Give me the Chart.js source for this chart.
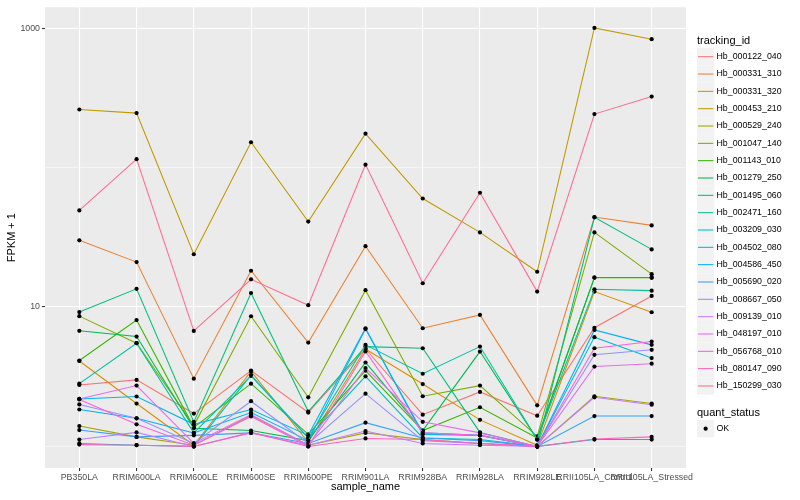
<!DOCTYPE html>
<html><head><meta charset="utf-8">
<script src="https://cdn.jsdelivr.net/npm/chart.js@4/dist/chart.umd.min.js"></script>
<style>html,body{margin:0;padding:0;background:#fff;}</style>
</head><body>
<canvas id="c" width="800" height="500" style="width:800px;height:500px;display:block"></canvas>
<script>
const categories = ['PB350LA','RRIM600LA','RRIM600LE','RRIM600SE','RRIM600PE','RRIM901LA','RRIM928BA','RRIM928LA','RRIM928LE','RRII105LA_Control','RRII105LA_Stressed'];
const trackingIds = ['Hb_000122_040','Hb_000331_310','Hb_000331_320','Hb_000453_210','Hb_000529_240','Hb_001047_140','Hb_001143_010','Hb_001279_250','Hb_001495_060','Hb_002471_160','Hb_003209_030','Hb_004502_080','Hb_004586_450','Hb_005690_020','Hb_008667_050','Hb_009139_010','Hb_048197_010','Hb_056768_010','Hb_080147_090','Hb_150299_030'];
const seriesColors = ['#F8766D','#EA8331','#D89000','#C09B00','#A3A500','#7CAE00','#39B600','#00BB4E','#00BF7D','#00C1A3','#00BFC4','#00BAE0','#00B0F6','#35A2FF','#9590FF','#C77CFF','#E76BF3','#FA62DB','#FF62BC','#FF6C91'];
const yTickValues = [1, 10, 100, 1000];
const yTickLabels = ['', '10', '', '1000'];

const hb_000122_040 = [2.76, 3.0, 1.72, 3.5, 1.75, 5.0, 1.69, 2.46, 1.66, 7.1, 12.0];
const hb_000331_310 = [30.1, 21.0, 3.06, 18.2, 5.56, 27.3, 7.04, 8.77, 1.97, 44.2, 38.5];
const hb_000331_320 = [4.1, 2.03, 1.02, 3.45, 1.07, 5.0, 2.8, 1.55, 1.02, 12.9, 9.17];
const hb_000453_210 = [261, 246, 23.9, 152, 41, 175, 60, 34.3, 17.9, 1005, 834];
const hb_000529_240 = [1.4, 1.17, 1.02, 1.67, 1.02, 1.25, 1.12, 1.05, 1.0, 2.29, 2.03];
const hb_001047_140 = [8.6, 5.5, 1.41, 8.58, 2.25, 13.2, 2.29, 2.73, 1.18, 34.3, 17.2];
const hb_001143_010 = [4.13, 8.06, 1.37, 2.82, 1.22, 3.5, 1.3, 1.91, 1.15, 16.2, 16.2];
const hb_001279_250 = [6.75, 6.14, 1.35, 1.3, 1.1, 4.0, 1.3, 4.79, 1.12, 16.3, 16.3];
const hb_001495_060 = [9.2, 13.5, 1.5, 12.6, 1.78, 5.2, 5.06, 1.26, 1.0, 44.0, 25.9];
const hb_002471_160 = [2.82, 5.5, 1.25, 3.2, 1.15, 5.35, 3.32, 5.2, 1.12, 13.4, 13.1];
const hb_003209_030 = [1.05, 1.02, 1.0, 3.25, 1.15, 3.18, 1.15, 1.12, 1.0, 1.12, 1.12];
const hb_004502_080 = [2.19, 2.28, 1.44, 1.84, 1.2, 7.04, 1.22, 1.2, 1.0, 6.08, 4.3];
const hb_004586_450 = [1.84, 1.59, 1.25, 1.75, 1.1, 6.95, 1.25, 1.2, 1.0, 6.85, 5.35];
const hb_005690_020 = [1.31, 1.17, 1.2, 1.25, 1.05, 1.48, 1.15, 1.1, 1.0, 1.65, 1.65];
const hb_008667_050 = [2.0, 1.59, 1.05, 2.11, 1.05, 2.39, 1.1, 1.05, 1.0, 4.54, 4.93];
const hb_009139_010 = [1.12, 1.26, 1.0, 1.25, 1.02, 1.29, 1.05, 1.02, 1.0, 2.25, 1.99];
const hb_048197_010 = [2.19, 2.73, 1.05, 1.69, 1.02, 3.65, 1.5, 1.25, 1.0, 3.74, 3.92];
const hb_056768_010 = [2.17, 1.44, 1.02, 1.64, 1.0, 4.8, 1.25, 1.2, 1.0, 5.06, 5.65];
const hb_080147_090 = [1.03, 1.02, 1.0, 1.26, 1.0, 1.14, 1.12, 1.05, 1.0, 1.13, 1.17];
const hb_150299_030 = [49.3, 115, 6.74, 15.8, 10.3, 105, 14.8, 66, 12.9, 242, 323];

const seriesList = [hb_000122_040, hb_000331_310, hb_000331_320, hb_000453_210, hb_000529_240, hb_001047_140, hb_001143_010, hb_001279_250, hb_001495_060, hb_002471_160, hb_003209_030, hb_004502_080, hb_004586_450, hb_005690_020, hb_008667_050, hb_009139_010, hb_048197_010, hb_056768_010, hb_080147_090, hb_150299_030];

const FONT = "'Liberation Sans', Arial, Helvetica, sans-serif";
const N = seriesList.length;

const datasets = seriesList.map((vals, i) => ({
  label: trackingIds[i],
  data: vals.map((v, j) => ({x: j, y: v})),
  borderColor: seriesColors[i],
  backgroundColor: seriesColors[i],
  borderWidth: 1.07,
  pointRadius: 2.1,
  pointHoverRadius: 2.1,
  pointBackgroundColor: '#000',
  pointBorderWidth: 0,
  tension: 0,
  fill: false,
  order: N - i
}));

const panelBg = {
  id: 'panelBg',
  beforeDraw(chart) {
    const a = chart.chartArea, ctx = chart.ctx;
    ctx.save();
    ctx.fillStyle = '#EBEBEB';
    ctx.fillRect(a.left, a.top, a.right - a.left, a.bottom - a.top);
    ctx.restore();
  }
};

const ggLegend = {
  id: 'ggLegend',
  afterDraw(chart) {
    const ctx = chart.ctx;
    const x0 = 697, key = 17.3, step = 17.33;
    ctx.save();
    ctx.textBaseline = 'middle';
    ctx.textAlign = 'left';
    ctx.fillStyle = '#000';
    ctx.font = '11px ' + FONT;
    ctx.fillText('tracking_id', x0, 40.7);
    ctx.font = '8.8px ' + FONT;
    chart.data.datasets.forEach((ds, i) => {
      const cy = 56.7 + step * i;
      ctx.fillStyle = '#F2F2F2';
      ctx.fillRect(x0, cy - key / 2, key, key);
      ctx.strokeStyle = ds.borderColor;
      ctx.lineWidth = 1.07;
      ctx.beginPath();
      ctx.moveTo(x0 + 1, cy);
      ctx.lineTo(x0 + key - 1, cy);
      ctx.stroke();
      ctx.fillStyle = '#000';
      ctx.fillText(ds.label, 716.5, cy);
    });
    ctx.font = '11px ' + FONT;
    ctx.fillText('quant_status', x0, 412.7);
    const cy = 428.7;
    ctx.fillStyle = '#F2F2F2';
    ctx.fillRect(x0, cy - key / 2, key, key);
    ctx.fillStyle = '#000';
    ctx.beginPath();
    ctx.arc(x0 + key / 2, cy, 2.1, 0, Math.PI * 2);
    ctx.fill();
    ctx.font = '8.8px ' + FONT;
    ctx.fillText('OK', 716.5, cy);
    ctx.restore();
  }
};

new Chart(document.getElementById('c'), {
  type: 'line',
  data: { datasets },
  plugins: [panelBg, ggLegend],
  options: {
    responsive: false,
    animation: false,
    devicePixelRatio: 1,
    layout: { padding: { top: 6, right: 114, left: 0, bottom: 0 } },
    plugins: { legend: { display: false }, tooltip: { enabled: false } },
    scales: {
      x: {
        type: 'linear',
        min: -0.6,
        max: 10.6,
        afterBuildTicks: (s) => { s.ticks = categories.map((_, i) => ({ value: i })); },
        afterFit: (s) => { s.height = 32; },
        border: { display: false },
        grid: { color: '#FFFFFF', lineWidth: 1.07, tickColor: '#333333', tickLength: 3, drawTicks: true },
        ticks: {
          autoSkip: false, maxRotation: 0, minRotation: 0, padding: 1,
          color: '#4D4D4D', font: { family: FONT, size: 8.8 },
          callback: (v) => categories[v]
        },
        title: { display: true, text: 'sample_name', color: '#000', font: { family: FONT, size: 11 }, padding: { top: 2, bottom: 6 } }
      },
      y: {
        type: 'logarithmic',
        min: Math.pow(10, -0.15),
        max: Math.pow(10, 3.15),
        afterBuildTicks: (s) => { s.ticks = yTickValues.map(v => ({ value: v })); },
        afterFit: (s) => { s.width = 45; },
        border: { display: false },
        grid: {
          color: '#FFFFFF',
          lineWidth: (c) => (c.tick && (c.tick.value === 10 || c.tick.value === 1000)) ? 1.07 : 0.53,
          tickColor: (c) => (c.tick && (c.tick.value === 10 || c.tick.value === 1000)) ? '#333333' : 'rgba(0,0,0,0)',
          tickLength: 3, drawTicks: true
        },
        ticks: {
          padding: 2, color: '#4D4D4D', font: { family: FONT, size: 8.8 },
          callback: (v) => { const k = yTickValues.indexOf(v); return k >= 0 ? yTickLabels[k] : ''; }
        },
        title: { display: true, text: 'FPKM + 1', color: '#000', font: { family: FONT, size: 11 }, padding: { top: 5, bottom: 2 } }
      }
    }
  }
});
</script>
</body></html>
